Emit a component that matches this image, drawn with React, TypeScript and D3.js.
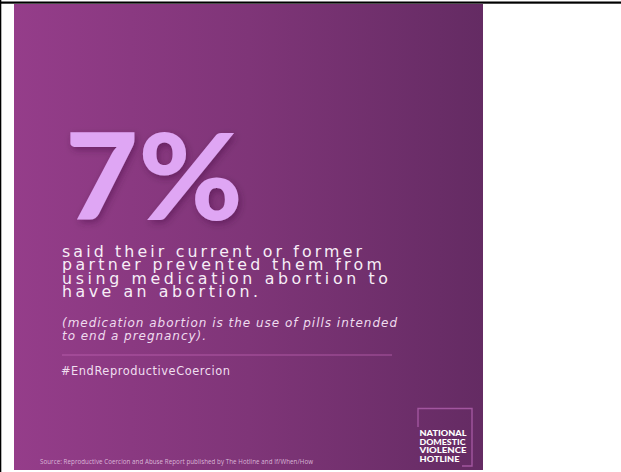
import React from "react";
import * as d3 from "d3";

// ---- content ----
const statValue = "7%";
const bodyLines = [
  "said their current or former",
  "partner prevented them from",
  "using medication abortion to",
  "have an abortion.",
];
const noteLines = [
  "(medication abortion is the use of pills intended",
  "to end a pregnancy).",
];
const hashtag = "#EndReproductiveCoercion";
const sourceText =
  "Source: Reproductive Coercion and Abuse Report published by The Hotline and If/When/How";
const logoLines = ["NATIONAL", "DOMESTIC", "VIOLENCE", "HOTLINE"];
const gradientColors = ["#953d8a", "#7f3578", "#642b63"];

// ---- layout (kept separate from content) ----
const W = 621;
const H = 472;
const panel = { x: 14, y: 4, w: 469, h: 466 };
const bodyWidths = [300, 320, 326, 196];
const noteWidths = [335, 144];
const logoWidths = [47, 46, 47, 40];

export default function App() {
  const bodyY = d3.scaleLinear().domain([0, bodyLines.length - 1]).range([256.7, 297]);
  const noteY = d3.scaleLinear().domain([0, noteLines.length - 1]).range([326.5, 340]);
  const logoY = d3.scaleLinear().domain([0, logoLines.length - 1]).range([436, 462]);
  const stops = gradientColors.map((c, i) => ({
    offset: d3.scaleLinear().domain([0, gradientColors.length - 1]).range([0, 1])(i),
    color: c,
  }));
  const box = { l: 418, t: 408.5, r: 472, b: 466 };

  return (
    <svg
      width={W}
      height={H}
      viewBox={`0 0 ${W} ${H}`}
      style={{ position: "absolute", left: 0, top: 0, background: "#fff" }}
    >
      <defs>
        <linearGradient id="bg" x1="0" y1="0" x2="1" y2="0">
          {stops.map((s, i) => (
            <stop key={i} offset={s.offset} stopColor={s.color} />
          ))}
        </linearGradient>
        <filter id="shadow" x="-20%" y="-20%" width="140%" height="140%">
          <feDropShadow dx="2" dy="3" stdDeviation="3.5" floodColor="#3a1038" floodOpacity="0.4" />
        </filter>
      </defs>

      {/* frame lines */}
      <rect x={0} y={1.5} width={W} height={2.2} fill="#000" />
      <rect x={0} y={0} width={1.3} height={H} fill="#000" />

      {/* panel */}
      <rect x={panel.x} y={panel.y} width={panel.w} height={panel.h} fill="url(#bg)" />

      {/* big stat */}
      <text
        x={65}
        y={220}
        fontFamily="Lato, 'Open Sans', sans-serif"
        fontWeight={900}
        fontSize={120}
        fill="#dfa6f4"
        textLength={178}
        lengthAdjust="spacingAndGlyphs"
        filter="url(#shadow)"
      >
        {statValue}
      </text>

      {/* body */}
      {bodyLines.map((t, i) => (
        <text
          key={t}
          x={62}
          y={bodyY(i)}
          fontFamily="'DejaVu Sans', sans-serif"
          fontSize={15.8}
          fill="#f7eef7"
          textLength={bodyWidths[i]}
          lengthAdjust="spacing"
        >
          {t}
        </text>
      ))}

      {/* note */}
      {noteLines.map((t, i) => (
        <text
          key={t}
          x={62}
          y={noteY(i)}
          fontFamily="'DejaVu Sans', sans-serif"
          fontStyle="italic"
          fontSize={12}
          fill="#efdcef"
          textLength={noteWidths[i]}
          lengthAdjust="spacing"
        >
          {t}
        </text>
      ))}

      {/* divider */}
      <line x1={62} x2={392} y1={355} y2={355} stroke="#c466b8" strokeOpacity={0.7} strokeWidth={1} />

      {/* hashtag */}
      <text
        x={61}
        y={375}
        fontFamily="'DejaVu Sans', sans-serif"
        fontSize={11.4}
        fill="#f0dff0"
        textLength={169}
        lengthAdjust="spacing"
      >
        {hashtag}
      </text>

      {/* source */}
      <text
        x={40}
        y={464}
        fontFamily="'Open Sans', sans-serif"
        fontSize={6.2}
        fill="#e8cfe6"
        fillOpacity={0.85}
        textLength={273}
        lengthAdjust="spacing"
      >
        {sourceText}
      </text>

      {/* logo */}
      <path
        d={`M${box.l},${logoY(0) - 9} L${box.l},${box.t} L${box.r},${box.t} L${box.r},${box.b} L${box.l + logoWidths[3] + 4},${box.b}`}
        fill="none"
        stroke="#a2569f"
        strokeWidth={1.4}
      />
      {logoLines.map((t, i) => (
        <text
          key={t}
          x={419.5}
          y={logoY(i)}
          fontFamily="Lato, 'Open Sans', sans-serif"
          fontWeight={900}
          fontSize={8}
          fill="#ffffff"
          textLength={logoWidths[i]}
          lengthAdjust="spacingAndGlyphs"
        >
          {t}
        </text>
      ))}
    </svg>
  );
}
